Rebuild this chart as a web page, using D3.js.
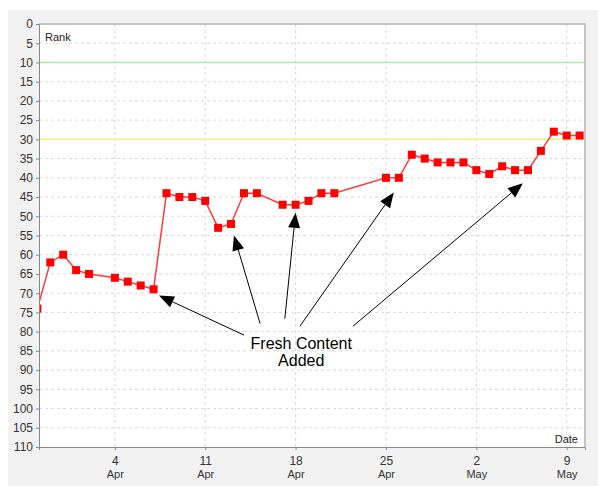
<!DOCTYPE html>
<html>
<head>
<meta charset="utf-8">
<script src="https://cdn.jsdelivr.net/npm/d3@7"></script>
<style>
  body { margin: 0; background: #fff; }
  svg { display: block; font-family: "Liberation Sans", Arial, sans-serif; }
</style>
</head>
<body>
<div id="chart"></div>
<script>
// rank history, one entry per day (some days missing)
const dates = ["2010-03-29","2010-03-30","2010-03-31","2010-04-01","2010-04-02","2010-04-04",
  "2010-04-05","2010-04-06","2010-04-07","2010-04-08","2010-04-09","2010-04-10","2010-04-11",
  "2010-04-12","2010-04-13","2010-04-14","2010-04-15","2010-04-17","2010-04-18","2010-04-19",
  "2010-04-20","2010-04-21","2010-04-25","2010-04-26","2010-04-27","2010-04-28","2010-04-29",
  "2010-04-30","2010-05-01","2010-05-02","2010-05-03","2010-05-04","2010-05-05","2010-05-06",
  "2010-05-07","2010-05-08","2010-05-09","2010-05-10"];
const ranks = [74,62,60,64,65,66,67,68,69,44,45,45,46,53,52,44,44,47,47,46,44,44,
  40,40,34,35,36,36,36,38,39,37,38,38,33,28,29,29];

const weekTicks = ["2010-04-04","2010-04-11","2010-04-18","2010-04-25","2010-05-02","2010-05-09"];
const rankTicks = d3.range(0, 111, 5);

// reference lines
const refLines = [{rank: 10, color: "#a8eea8"}, {rank: 30, color: "#f4f47a"}];

// annotation: label position and arrows (tail -> tip) in date/rank units
const noteText = ["Fresh Content", "Added"];
const notePos = ["2010-04-18T10:30", 84.5];
const arrows = [
  [["2010-04-14T00:00", 80.9], ["2010-04-07T10:00", 70.6]],
  [["2010-04-15T06:00", 77.9], ["2010-04-13T05:30", 55.0]],
  [["2010-04-17T04:00", 76.6], ["2010-04-18T00:00", 49.1]],
  [["2010-04-18T08:00", 78.6], ["2010-04-25T14:30", 43.8]],
  [["2010-04-22T10:30", 78.6], ["2010-05-05T14:30", 41.4]]
];

const W = 604, H = 497;
const margin = {top: 24, right: 19, bottom: 50, left: 39};
const width = W - margin.left - margin.right,
      height = H - margin.top - margin.bottom;

const parseDay = d3.timeParse("%Y-%m-%d");
const parseTime = d3.timeParse("%Y-%m-%dT%H:%M");
const data = dates.map((d, i) => ({date: parseDay(d), rank: ranks[i]}));

const svg = d3.select("#chart").append("svg")
  .attr("width", W).attr("height", H);

// panel background
svg.append("rect")
  .attr("x", 8).attr("y", 10).attr("width", 590).attr("height", 476)
  .attr("fill", "#f2f2f2");

const g = svg.append("g")
  .attr("transform", `translate(${margin.left},${margin.top})`);

const x = d3.scaleTime()
  .domain([d3.timeHour.offset(parseDay("2010-03-29"), 3), d3.timeHour.offset(parseDay("2010-05-10"), 10)])
  .range([0, width]);
const y = d3.scaleLinear().domain([0, 110]).range([0, height]);

g.append("rect").attr("width", width).attr("height", height).attr("fill", "#fff");

g.append("clipPath").attr("id", "clip")
  .append("rect").attr("width", width).attr("height", height);

// grid
g.append("g").selectAll("line")
  .data(rankTicks.filter(d => d > 0 && d < 110))
  .join("line")
    .attr("x1", 0).attr("x2", width)
    .attr("y1", d => y(d)).attr("y2", d => y(d))
    .attr("stroke", "#dadada").attr("stroke-dasharray", "3,3");
g.append("g").selectAll("line")
  .data(weekTicks.map(parseDay))
  .join("line")
    .attr("x1", d => x(d)).attr("x2", d => x(d))
    .attr("y1", 0).attr("y2", height)
    .attr("stroke", "#dadada").attr("stroke-dasharray", "3,3");

g.append("g").selectAll("line")
  .data(refLines)
  .join("line")
    .attr("x1", 0).attr("x2", width)
    .attr("y1", d => y(d.rank)).attr("y2", d => y(d.rank))
    .attr("stroke", d => d.color).attr("stroke-width", 1.5);

// frame top/right
g.append("path")
  .attr("d", `M0,0H${width}V${height}`)
  .attr("fill", "none").attr("stroke", "#c4c4c4").attr("stroke-width", 2);

// series
const plot = g.append("g").attr("clip-path", "url(#clip)");
plot.append("path")
  .datum(data)
  .attr("fill", "none")
  .attr("stroke", "#ff3b3b")
  .attr("stroke-width", 1.5)
  .attr("d", d3.line().x(d => x(d.date)).y(d => y(d.rank)));
const ms = 8;
plot.selectAll("rect.pt")
  .data(data)
  .join("rect")
    .attr("class", "pt")
    .attr("x", d => x(d.date) - ms / 2)
    .attr("y", d => y(d.rank) - ms / 2)
    .attr("width", ms).attr("height", ms)
    .attr("fill", "#ff0000");

// axes
const yAxis = g.append("g")
  .call(d3.axisLeft(y).tickValues(rankTicks).tickSize(3).tickPadding(3));
yAxis.select(".domain").attr("stroke", "#888");
yAxis.selectAll(".tick line").attr("stroke", "#888");
yAxis.selectAll("text").attr("font-size", 12).attr("fill", "#333")
  .attr("font-family", "Liberation Sans, Arial, sans-serif");

const xAxis = g.append("g")
  .attr("transform", `translate(0,${height})`)
  .call(d3.axisBottom(x).tickValues(weekTicks.map(parseDay)).tickSize(3).tickFormat(""));
xAxis.select(".domain").attr("stroke", "#888");
xAxis.selectAll(".tick line").attr("stroke", "#888");
const fmtDay = d3.timeFormat("%-d"), fmtMon = d3.timeFormat("%b");
xAxis.selectAll(".tick").each(function(d) {
  const t = d3.select(this);
  t.append("text").attr("y", 18).attr("text-anchor", "middle")
    .attr("font-size", 12).attr("fill", "#333").text(fmtDay(d));
  t.append("text").attr("y", 31).attr("text-anchor", "middle")
    .attr("font-size", 11).attr("fill", "#333").text(fmtMon(d));
});

// axis titles
g.append("text").attr("x", 6).attr("y", 17)
  .attr("font-size", 11).attr("fill", "#222").text("Rank");
g.append("text").attr("x", width - 7).attr("y", height - 4)
  .attr("text-anchor", "end").attr("font-size", 11).attr("fill", "#222").text("Date");

// annotation
const noteX = x(parseTime(notePos[0])), noteY = y(notePos[1]);
g.append("text")
  .attr("x", noteX).attr("y", noteY)
  .attr("text-anchor", "middle").attr("font-size", 16).attr("fill", "#000")
  .selectAll("tspan")
  .data(noteText)
  .join("tspan")
    .attr("x", noteX)
    .attr("dy", (d, i) => i === 0 ? 0 : 17)
    .text(d => d);

const headLen = 15, headW = 6;
arrows.forEach(([from, to]) => {
  const x1 = x(parseTime(from[0])), y1 = y(from[1]);
  const x2 = x(parseTime(to[0])), y2 = y(to[1]);
  const a = Math.atan2(y2 - y1, x2 - x1);
  const bx = x2 - headLen * Math.cos(a), by = y2 - headLen * Math.sin(a);
  g.append("line")
    .attr("x1", x1).attr("y1", y1).attr("x2", bx).attr("y2", by)
    .attr("stroke", "#000").attr("stroke-width", 1);
  const px = -Math.sin(a) * headW, py = Math.cos(a) * headW;
  g.append("path")
    .attr("d", `M${x2},${y2}L${bx + px},${by + py}L${bx - px},${by - py}Z`)
    .attr("fill", "#000");
});
</script>
</body>
</html>
